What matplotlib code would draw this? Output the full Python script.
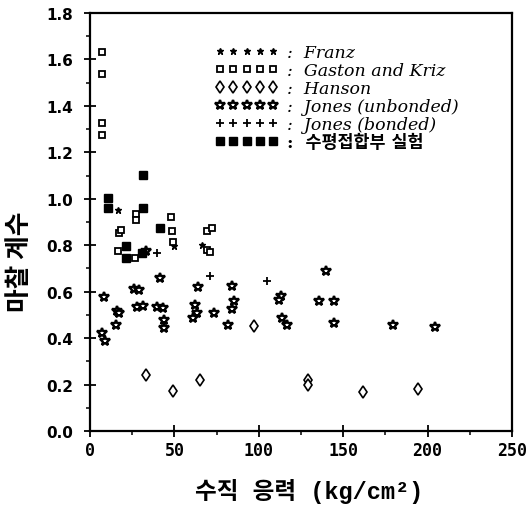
import matplotlib
matplotlib.use("Agg")
import matplotlib.pyplot as plt
from matplotlib.ticker import MultipleLocator

# data (x: normal stress kg/cm2, y: friction coefficient)
franz_x = [16.8, 49.6, 66.2]
franz_y = [0.953, 0.795, 0.802]

gaston_x = [7.3, 7.3, 7.3, 7.3, 27.3, 27.3, 17.0, 18.2, 16.8, 26.7,
            48.0, 48.4, 49.4, 69.1, 72.5, 69.6, 70.8]
gaston_y = [1.631, 1.537, 1.325, 1.275, 0.935, 0.909, 0.852, 0.866, 0.774, 0.745,
            0.923, 0.863, 0.815, 0.863, 0.874, 0.781, 0.770]

hanson_x = [97.2, 33.0, 49.4, 65.4, 129.3, 129.3, 161.7, 194.3]
hanson_y = [0.451, 0.241, 0.171, 0.221, 0.221, 0.198, 0.168, 0.180]

jones_ub_x = [8.5, 7.3, 8.9, 15.4, 15.8, 17.4, 26.1, 29.0, 28.0, 31.6, 33.4,
              41.5, 39.5, 43.4, 44.0, 44.0, 64.2, 62.2, 63.2, 61.2, 73.6, 81.6,
              84.3, 85.3, 83.9, 139.8, 113.0, 112.1, 135.8, 144.7, 113.5, 116.9,
              144.5, 179.7, 204.4]
jones_ub_y = [0.576, 0.422, 0.389, 0.458, 0.518, 0.508, 0.612, 0.607, 0.533, 0.540, 0.776,
              0.658, 0.533, 0.530, 0.478, 0.444, 0.622, 0.544, 0.508, 0.485, 0.508, 0.458,
              0.626, 0.561, 0.525, 0.690, 0.583, 0.564, 0.561, 0.561, 0.485, 0.457,
              0.465, 0.457, 0.449]

jones_b_x = [39.9, 71.1, 104.7]
jones_b_y = [0.765, 0.669, 0.645]

test_x = [10.9, 10.9, 31.6, 31.6, 21.3, 21.3, 41.5, 30.8]
test_y = [1.002, 0.962, 1.104, 0.962, 0.798, 0.744, 0.874, 0.768]

labels = [":  Franz", ":  Gaston and Kriz", ":  Hanson",
          ":  Jones (unbonded)", ":  Jones (bonded)", ":  수평접합부 실험"]

fig = plt.figure(figsize=(5.28, 5.06), dpi=100)
ax = fig.add_axes([90 / 528, 1 - 432 / 506, 422 / 528, 418 / 506])

ax.plot(franz_x, franz_y, ls="none", marker="*", ms=5, color="black",
        label=labels[0])
ax.plot(gaston_x, gaston_y, ls="none", marker="s", ms=5, mfc="white",
        mec="black", mew=1.3, label=labels[1])
ax.plot(hanson_x, hanson_y, ls="none", marker="d", ms=6, mfc="white",
        mec="black", mew=1.2, label=labels[2])
ax.plot(jones_ub_x, jones_ub_y, ls="none", marker="*", ms=7.5, mfc="white",
        mec="black", mew=1.7, label=labels[3])
ax.plot(jones_b_x, jones_b_y, ls="none", marker="+", ms=6, color="black",
        mew=1.3, label=labels[4])
ax.plot(test_x, test_y, ls="none", marker="s", ms=6, color="black",
        label=labels[5])

ax.set_xlim(0, 250)
ax.set_ylim(0, 1.8)
ax.xaxis.set_major_locator(MultipleLocator(50))
ax.xaxis.set_minor_locator(MultipleLocator(25))
ax.yaxis.set_major_locator(MultipleLocator(0.2))
ax.yaxis.set_minor_locator(MultipleLocator(0.1))
ax.yaxis.set_major_formatter(plt.FuncFormatter(lambda v, p: f"{v:.1f}"))

for s in ax.spines.values():
    s.set_linewidth(1.6)
ax.tick_params(which="major", direction="inout", length=8, width=1.3)
ax.tick_params(which="minor", direction="out", length=3, width=1.1)
ax.tick_params(axis="y", which="major", pad=8)
ax.tick_params(axis="x", which="major", pad=3)

for t in ax.get_yticklabels():
    t.set_fontfamily("DejaVu Sans")
    t.set_fontweight("bold")
    t.set_fontsize(11)
for t in ax.get_xticklabels():
    t.set_fontfamily("DejaVu Sans Mono")
    t.set_fontweight("bold")
    t.set_fontsize(12)

leg = ax.legend(loc="upper left", bbox_to_anchor=(0.296, 0.925), frameon=False,
                numpoints=5, handlelength=3.65, handletextpad=0.5,
                labelspacing=0.05, borderpad=0, borderaxespad=0,
                prop={"family": "DejaVu Serif", "style": "italic", "size": 12.5})
txt = leg.get_texts()[5]
txt.set_fontfamily(["DejaVu Serif", "Noto Sans CJK KR"])
txt.set_fontstyle("normal")
txt.set_fontweight("bold")

fig.text(20 / 528, 1 - 262 / 506, "마찰 계수", rotation=90, ha="center",
         va="center", fontsize=18.5, fontweight="bold", family="Noto Sans CJK KR")
fig.text(309 / 528, 1 - 492 / 506, "수직 응력 (kg/cm²)", ha="center",
         va="center", fontsize=17, fontweight="bold",
         family=["Liberation Mono", "Noto Sans CJK KR"])

fig.savefig("out.png", dpi=100)
